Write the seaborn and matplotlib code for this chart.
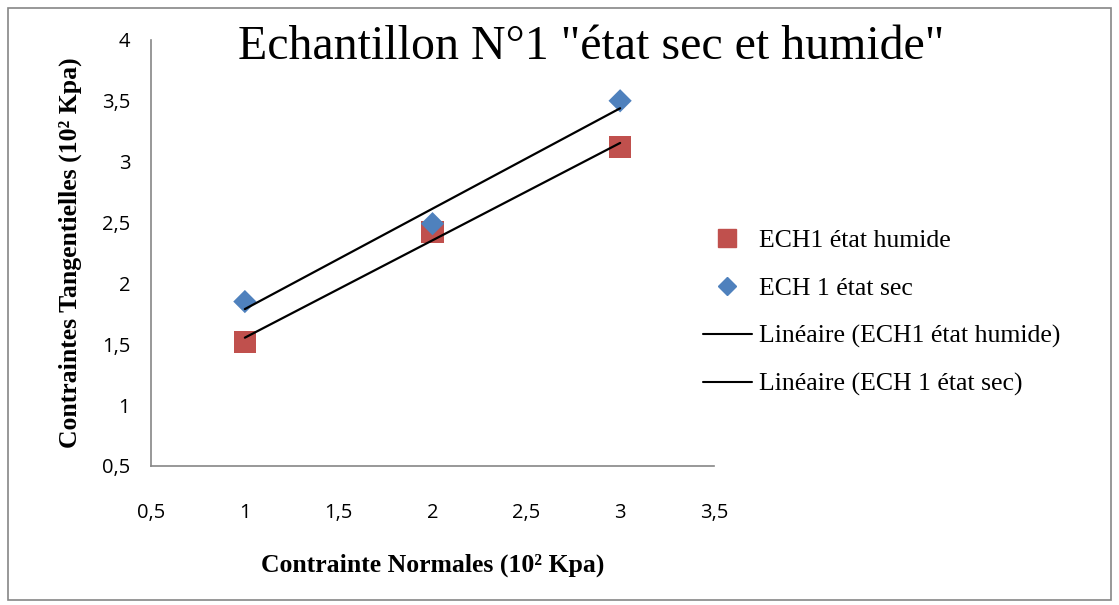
import matplotlib
matplotlib.use("Agg")
import matplotlib.pyplot as plt
from matplotlib.patches import Rectangle
from matplotlib.lines import Line2D
from matplotlib.ticker import FuncFormatter
import numpy as np
import pandas as pd
import seaborn as sns

# Shear test results, sample 1
normal_stress = [1, 2, 3]
shear_humide = [1.52, 2.42, 3.12]
shear_sec = [1.85, 2.49, 3.50]

label_humide = "ECH1 état humide"
label_sec = "ECH 1 état sec"
x_ticks = [0.5, 1, 1.5, 2, 2.5, 3, 3.5]
y_ticks = [0.5, 1, 1.5, 2, 2.5, 3, 3.5, 4]

df_h = pd.DataFrame({"x": normal_stress, "y": shear_humide})
df_s = pd.DataFrame({"x": normal_stress, "y": shear_sec})

sns.set_style("white")
plt.rcParams["font.family"] = ["Liberation Serif", "DejaVu Serif"]

fig = plt.figure(figsize=(11.19, 6.05), dpi=100)
ax = fig.add_axes([0.135, 0.230, 0.503, 0.704])

red = "#C0504D"
blue = "#4F81BD"
grey = "#868686"

sns.scatterplot(data=df_h, x="x", y="y", ax=ax, marker="s", s=260,
                color=red, edgecolor="none", zorder=3)
sns.scatterplot(data=df_s, x="x", y="y", ax=ax, marker="D", s=140,
                color=blue, edgecolor="none", zorder=4)
sns.regplot(data=df_h, x="x", y="y", ax=ax, scatter=False, ci=None,
            truncate=True, line_kws=dict(color="black", lw=1.6, zorder=5))
sns.regplot(data=df_s, x="x", y="y", ax=ax, scatter=False, ci=None,
            truncate=True, line_kws=dict(color="black", lw=1.6, zorder=5))

ax.set_xlim(0.5, 3.5)
ax.set_ylim(0.5, 4)
ax.set_xticks(x_ticks)
ax.set_yticks(y_ticks)
fmt = FuncFormatter(lambda v, p: (f"{v:g}").replace(".", ","))
ax.xaxis.set_major_formatter(fmt)
ax.yaxis.set_major_formatter(fmt)

for side in ["top", "right"]:
    ax.spines[side].set_visible(False)
for side in ["left", "bottom"]:
    ax.spines[side].set_color(grey)
    ax.spines[side].set_linewidth(1.2)
ax.tick_params(axis="both", direction="out", length=6, width=1.2, color=grey,
               labelsize=14.5, labelcolor="black", pad=9)
for lab in ax.get_xticklabels() + ax.get_yticklabels():
    lab.set_family(["Open Sans", "DejaVu Sans"])
ax.tick_params(axis="x", pad=21)

ax.set_xlabel("Contrainte Normales (10² Kpa)", fontsize=18.5, fontweight="bold",
              labelpad=22, color="black")
ax.set_ylabel("Contraintes Tangentielles (10² Kpa)", fontsize=18.5,
              fontweight="bold", labelpad=14, color="black")

fig.text(0.528, 0.922, 'Echantillon N°1 "état sec et humide"', fontsize=34.5,
         ha="center", va="center", color="black")

handles = [
    Line2D([], [], marker="s", color=red, linestyle="none", markersize=13),
    Line2D([], [], marker="D", color=blue, linestyle="none", markersize=9.5),
    Line2D([], [], color="black", lw=1.5),
    Line2D([], [], color="black", lw=1.5),
]
labels = [label_humide, label_sec, f"Linéaire ({label_humide})",
          f"Linéaire ({label_sec})"]
leg = fig.legend(handles, labels, loc="upper left", bbox_to_anchor=(0.628, 0.621),
                 frameon=False, fontsize=18.5, labelspacing=0.96, handlelength=1.9,
                 handletextpad=0.3, borderpad=0, borderaxespad=0)
for t in leg.get_texts():
    t.set_color("black")

fig.patches.append(Rectangle((0.007, 0.008), 0.986, 0.978, transform=fig.transFigure,
                             fill=False, edgecolor=grey, lw=1.2))

fig.savefig("out.png", dpi=100)
